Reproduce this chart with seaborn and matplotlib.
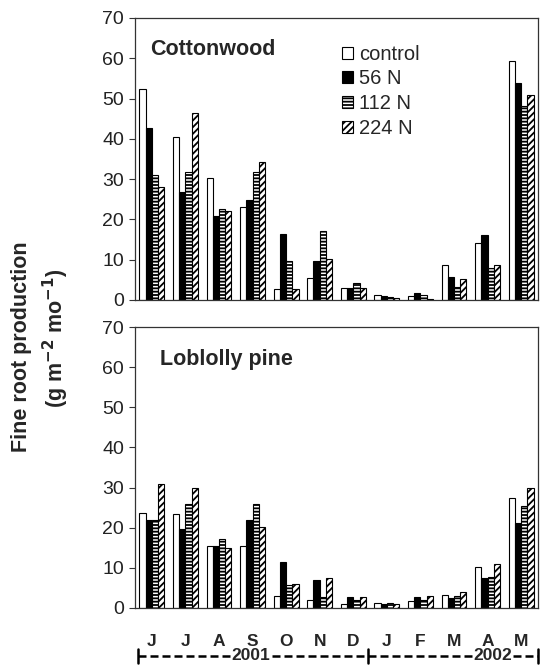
import matplotlib
matplotlib.use("Agg")
import matplotlib.pyplot as plt
import seaborn as sns
import pandas as pd
from matplotlib.patches import Patch
from matplotlib.transforms import blended_transform_factory

sns.set_theme(style="white")
plt.rcParams['font.family'] = ['Liberation Sans', 'DejaVu Sans']
plt.rcParams['hatch.linewidth'] = 1.3

months = ["J", "J", "A", "S", "O", "N", "D", "J", "F", "M", "A", "M"]
month_keys = ["Jun01", "Jul01", "Aug01", "Sep01", "Oct01", "Nov01", "Dec01",
              "Jan02", "Feb02", "Mar02", "Apr02", "May02"]
treatments = ["control", "56 N", "112 N", "224 N"]

cotton_control = [52.3, 40.4, 30.4, 23.0, 2.7, 5.4, 2.9, 1.2, 1.1, 8.6, 14.1, 59.3]
cotton_56 = [42.8, 26.9, 20.8, 24.8, 16.5, 9.7, 2.9, 0.9, 1.7, 5.6, 16.1, 53.8]
cotton_112 = [31.0, 31.7, 22.6, 31.7, 9.7, 17.2, 4.1, 0.7, 1.3, 3.2, 7.9, 48.1]
cotton_224 = [28.0, 46.3, 22.0, 34.2, 2.7, 10.3, 3.0, 0.5, 0.3, 5.1, 8.7, 50.8]

pine_control = [23.6, 23.3, 15.4, 15.4, 3.1, 2.0, 1.0, 1.2, 1.8, 3.3, 10.3, 27.4]
pine_56 = [21.9, 19.7, 15.4, 21.9, 11.5, 7.0, 2.8, 0.9, 2.8, 2.6, 7.4, 21.1]
pine_112 = [21.9, 25.8, 17.3, 26.0, 5.7, 2.7, 2.1, 1.2, 2.0, 3.1, 7.8, 25.3]
pine_224 = [30.8, 29.8, 14.9, 20.1, 6.1, 7.5, 2.8, 0.9, 3.1, 4.0, 10.9, 29.9]

yticks = [0, 10, 20, 30, 40, 50, 60, 70]
years = ["2001", "2002"]


def make_df(series):
    rows = []
    for t, vals in zip(treatments, series):
        for k, v in zip(month_keys, vals):
            rows.append({"month": k, "treatment": t, "value": v})
    return pd.DataFrame(rows)


df_cotton = make_df([cotton_control, cotton_56, cotton_112, cotton_224])
df_pine = make_df([pine_control, pine_56, pine_112, pine_224])

facecolors = {"control": "white", "56 N": "black", "112 N": "white", "224 N": "white"}
hatches = {"control": "", "56 N": "", "112 N": "-----", "224 N": "/////"}

fig = plt.figure(figsize=(5.5, 6.67), dpi=100)
W, H = 550, 667
ax1 = fig.add_axes([135 / W, 1 - 300 / H, 403 / W, 282 / H])
ax2 = fig.add_axes([135 / W, 1 - 608 / H, 403 / W, 281 / H])

tick_color = "#222222"

for ax, df, title, tx, ty in [(ax1, df_cotton, "Cottonwood", 0.037, 0.887),
                              (ax2, df_pine, "Loblolly pine", 0.062, 0.883)]:
    sns.barplot(data=df, x="month", y="value", hue="treatment", order=month_keys,
                hue_order=treatments, palette=facecolors, edgecolor="black",
                linewidth=0.8, width=0.74, ax=ax, legend=False)
    for cont, t in zip(ax.containers, treatments):
        for p in cont:
            p.set_hatch(hatches[t])
            p.set_edgecolor("black")
    ax.set_ylim(0, 70)
    ax.set_xlim(-0.5, 11.5)
    ax.set_yticks(yticks)
    ax.set_yticklabels([str(v) for v in yticks], fontsize=14, color=tick_color)
    ax.set_xlabel("")
    ax.set_ylabel("")
    for s in ax.spines.values():
        s.set_visible(True)
        s.set_color("#333333")
        s.set_linewidth(0.9)
    ax.tick_params(axis="y", direction="out", length=4, width=0.8, color="#333333", pad=4, left=True)
    ax.tick_params(axis="x", length=0)
    ax.text(tx, ty, title, transform=ax.transAxes, fontsize=15.5,
            fontweight="bold", ha="left", va="center")

ax1.set_xticklabels([])
ax2.set_xticks(range(12))
ax2.set_xticklabels(months, fontsize=12.5, fontweight="bold")
ax2.tick_params(axis="x", pad=24, labelsize=12.5)
for lbl in ax2.get_xticklabels():
    lbl.set_va("center")

handles = [Patch(facecolor=facecolors[t], edgecolor="black", hatch=hatches[t], linewidth=0.8)
           for t in treatments]
ax1.legend(handles, treatments, loc="upper left", bbox_to_anchor=(0.514, 0.905),
           frameon=False, fontsize=14.5, handlelength=0.55, handleheight=0.55,
           handletextpad=0.3, labelspacing=0.28, borderaxespad=0, borderpad=0)

# year line beneath months
tr = blended_transform_factory(ax2.transData, fig.transFigure)
yy = 1 - 656 / H
ax2.text(2.95, yy, years[0], transform=tr, ha="center", va="center", fontsize=12.5, fontweight="bold")
ax2.text(10.15, yy, years[1], transform=tr, ha="center", va="center", fontsize=12.5, fontweight="bold")
for x0, x1 in [(-0.4, 2.35), (3.58, 6.44), (6.44, 9.55), (10.75, 11.5)]:
    ax2.plot([x0, x1], [yy, yy], transform=tr, color="black", lw=1.8,
             linestyle=(0, (3.2, 1.6)), clip_on=False, solid_capstyle="butt")
for xb in [-0.4, 6.44, 11.5]:
    ax2.plot([xb, xb], [yy - 0.011, yy + 0.011], transform=tr, color="black",
             lw=1.8, clip_on=False)

fig.text(22 / W, 1 - 347 / H, "Fine root production", rotation=90, ha="center",
         va="center", fontsize=15.5, fontweight="bold")
fig.text(56 / W, 1 - 338 / H, r"(g m$^{\mathbf{-2}}$ mo$^{\mathbf{-1}}$)", rotation=90,
         ha="center", va="center", fontsize=15.5, fontweight="bold")

fig.savefig("out.png", dpi=100, facecolor="white")
